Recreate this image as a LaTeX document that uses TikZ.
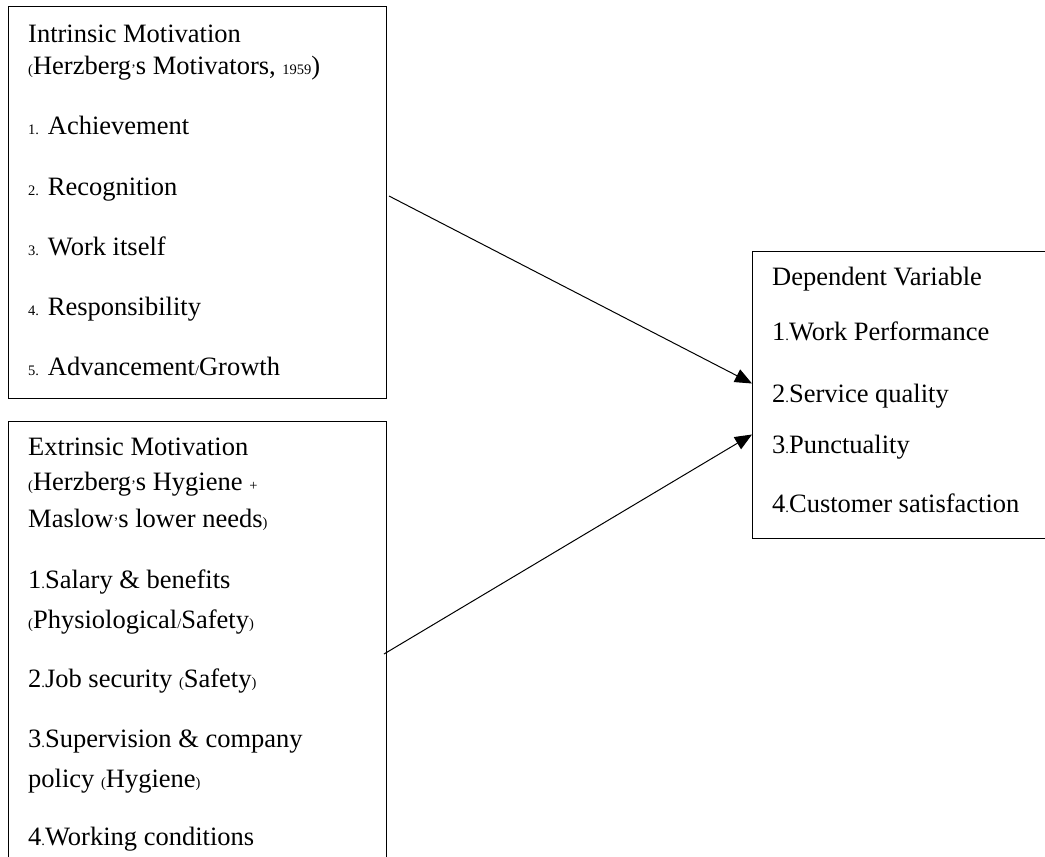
\documentclass[tikz,border=0pt]{standalone}
\usepackage{fontspec}
\setmainfont{Liberation Serif}
\usetikzlibrary{arrows.meta}

\newcommand{\sm}[1]{{\fontsize{14.5}{14.5}\selectfont #1}}

\tikzset{
    panel/.style={draw, line width=1pt, inner sep=0pt, anchor=north west},
    txt/.style={anchor=base west, inner sep=0pt, font=\fontsize{26.5}{30}\selectfont},
    flow/.style={-{Triangle[length=17pt, width=14pt]}, line width=1pt}
}

\begin{document}
\begin{tikzpicture}[x=1pt, y=-1pt]
    \clip (0,0) rectangle (1045,857);

    % Intrinsic motivation
    \node[panel, minimum width=378, minimum height=392] (intr) at (8,6) {};
    \node[txt] (i0) at (28,42) {Intrinsic Motivation};
    \node[txt] (i1) at (28,74) {\sm{(}Herzberg\sm{’}s Motivators, \sm{1959})};
    \node[txt] (i2) at (28,134) {\sm{1.} Achievement};
    \node[txt] (i3) at (28,195) {\sm{2.} Recognition};
    \node[txt] (i4) at (28,255) {\sm{3.} Work itself};
    \node[txt] (i5) at (28,315) {\sm{4.} Responsibility};
    \node[txt] (i6) at (28,375) {\sm{5.} Advancement\sm{/}Growth};

    % Extrinsic motivation
    \node[panel, minimum width=378, minimum height=470] (extr) at (8,421) {};
    \node[txt] (e0) at (28,455) {Extrinsic Motivation};
    \node[txt] (e1) at (28,490) {\sm{(}Herzberg\sm{’}s Hygiene \sm{+}};
    \node[txt] (e2) at (28,527) {Maslow\sm{’}s lower needs\sm{)}};
    \node[txt] (e3) at (28,588) {1\sm{.}Salary \& benefits};
    \node[txt] (e4) at (28,628) {\sm{(}Physiological\sm{/}Safety\sm{)}};
    \node[txt] (e5) at (28,687) {2\sm{.}Job security \sm{(}Safety\sm{)}};
    \node[txt] (e6) at (28,747) {3\sm{.}Supervision \& company};
    \node[txt] (e7) at (28,787) {policy \sm{(}Hygiene\sm{)}};
    \node[txt] (e8) at (28,845) {4\sm{.}Working conditions};

    % Dependent variable
    \node[panel, minimum width=330, minimum height=287] (dep) at (752,251) {};
    \node[txt] (d0) at (772,285) {Dependent Variable};
    \node[txt] (d1) at (772,340) {1\sm{.}Work Performance};
    \node[txt] (d2) at (772,402) {2\sm{.}Service quality};
    \node[txt] (d3) at (772,453) {3\sm{.}Punctuality};
    \node[txt] (d4) at (772,512) {4\sm{.}Customer satisfaction};

    % arrows
    \coordinate (s1) at (389,196);
    \coordinate (s2) at (384,654);
    \draw[flow] (s1) -- ([yshift=11.5pt]dep.west);
    \draw[flow] (s2) -- ([yshift=-39.5pt]dep.west);
\end{tikzpicture}
\end{document}
